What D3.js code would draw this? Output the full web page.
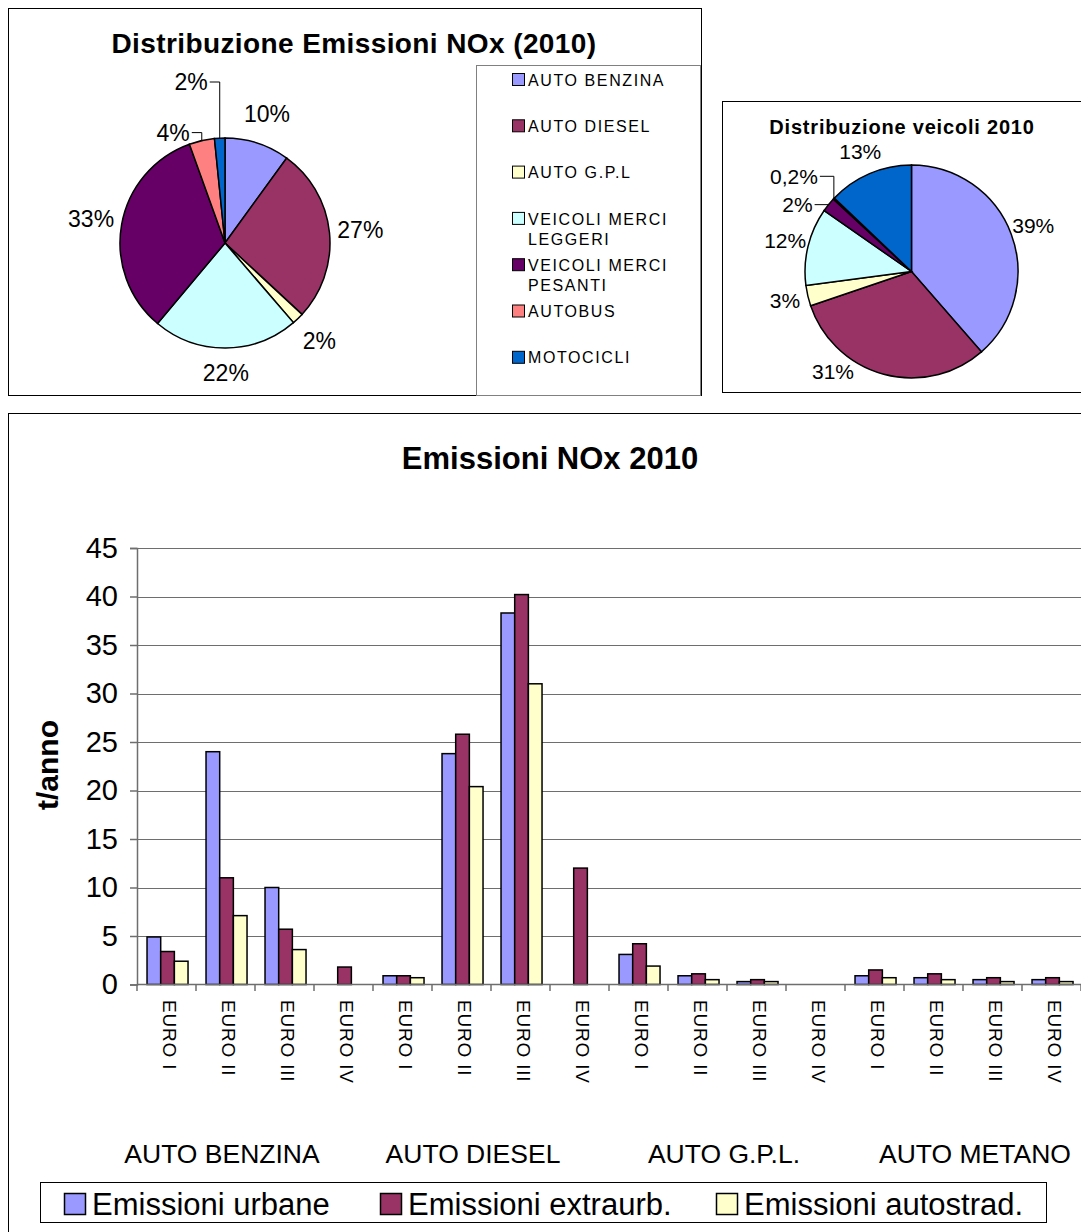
<!DOCTYPE html>
<html>
<head>
<meta charset="utf-8">
<script src="https://cdn.jsdelivr.net/npm/d3@7"></script>
<style>
  body { margin: 0; background: #fff; }
  svg { display: block; font-family: "Liberation Sans", Arial, sans-serif; }
</style>
</head>
<body>
<svg id="chart" width="1081" height="1232"></svg>
<script>
// --- dati torte ---
var categorie = ["AUTO BENZINA", "AUTO DIESEL", "AUTO G.P.L", "VEICOLI MERCI LEGGERI",
                 "VEICOLI MERCI PESANTI", "AUTOBUS", "MOTOCICLI"];
var emissioniNOx = [10.0, 26.9, 1.8, 22.4, 33.4, 3.9, 1.6];
var veicoli = [38.6, 31.2, 3.1, 11.8, 2.2, 0.2, 12.9];
var colori = ["#9999FF", "#993366", "#FFFFCC", "#CCFFFF", "#660066", "#FF8080", "#0066CC"];

// --- dati istogramma ---
var gruppi = ["AUTO BENZINA", "AUTO DIESEL", "AUTO G.P.L.", "AUTO METANO"];
var euro = ["EURO I", "EURO II", "EURO III", "EURO IV"];
var serie = ["Emissioni urbane", "Emissioni extraurb.", "Emissioni autostrad."];
var urbane    = [4.9, 24, 10, 0,   0.9, 23.8, 38.3, 0,  3.1, 0.9, 0.3, 0,  0.9, 0.7, 0.5, 0.5];
var extraurb  = [3.4, 11, 5.7, 1.8, 0.9, 25.8, 40.2, 12, 4.2, 1.1, 0.5, 0,  1.5, 1.1, 0.7, 0.7];
var autostrad = [2.4, 7.1, 3.6, 0, 0.7, 20.4, 31,   0,  1.9, 0.5, 0.3, 0,  0.7, 0.5, 0.3, 0.3];
var yTicks = [0, 5, 10, 15, 20, 25, 30, 35, 40, 45];
var coloriSerie = ["#9999FF", "#993366", "#FFFFCC"];

var svg = d3.select("#chart");
var it = d3.formatLocale({decimal: ",", thousands: ".", grouping: [3], currency: ["", "€"]});
function fmtPerc(p) { return p < 0.01 ? it.format(".1%")(p) : it.format(".0%")(p); }

// cornici
svg.append("rect").attr("x", 8.5).attr("y", 8.5).attr("width", 693).attr("height", 387)
  .attr("fill", "none").attr("stroke", "#000");
svg.append("rect").attr("x", 722.5).attr("y", 101.5).attr("width", 400).attr("height", 291)
  .attr("fill", "none").attr("stroke", "#000");
svg.append("rect").attr("x", 8.5).attr("y", 413.5).attr("width", 1100).attr("height", 900)
  .attr("fill", "none").attr("stroke", "#000");

// opt: fs = font, labelR = raggio etichette, fondo = limite basso,
// rise0 / passo = posizione delle etichette con linea guida
function disegnaTorta(valori, cx, cy, r, opt) {
  var fs = opt.fs;
  var g = svg.append("g");
  var archi = d3.pie().sort(null).value(function(d) { return d; })(valori);
  var arc = d3.arc().innerRadius(0).outerRadius(r);
  var tot = d3.sum(valori);

  g.selectAll("path").data(archi).enter().append("path")
    .attr("transform", "translate(" + cx + "," + cy + ")")
    .attr("d", arc)
    .attr("fill", function(d, i) { return colori[i]; })
    .attr("stroke", "#000").attr("stroke-width", 1.5);

  var prevY = null;
  archi.forEach(function(d, i) {
    var p = d.value / tot;
    var a = (d.startAngle + d.endAngle) / 2;
    var prev = valori[(i - 1 + valori.length) % valori.length] / tot;
    var next = valori[(i + 1) % valori.length] / tot;
    var piccola = p < 0.05 && (prev < 0.05 || next < 0.05);
    var testo = fmtPerc(p);
    if (!piccola) {
      var lx = cx + opt.labelR * Math.sin(a);
      var ly = cy - opt.labelR * Math.cos(a);
      var t = g.append("text").attr("dy", "0.35em")
        .attr("text-anchor", "middle").attr("font-size", fs).text(testo);
      if (ly > opt.fondo - fs) {
        // spostata dentro la cornice: se tocca la torta la allontano di lato
        ly = opt.fondo - fs;
        var w = t.node().getComputedTextLength();
        var dyTop = ly - cy - fs * 0.4;
        if (dyTop < r) {
          var half = Math.sqrt(r * r - dyTop * dyTop);
          if (Math.sin(a) < 0) lx = Math.min(lx, cx - half - w / 2 - 4);
          else lx = Math.max(lx, cx + half + w / 2 + 4);
        }
      }
      t.attr("x", lx).attr("y", ly);
    } else {
      var ex = cx + r * Math.sin(a), ey = cy - r * Math.cos(a);
      var ny = prevY === null ? ey - opt.rise0 : prevY - opt.passo * fs;
      var hx = ex - opt.coda;
      g.append("polyline")
        .attr("points", [[ex, ey], [ex, ny], [hx, ny]].map(function(q) { return q.join(","); }).join(" "))
        .attr("fill", "none").attr("stroke", "#000").attr("stroke-width", 1);
      g.append("text").attr("x", hx - 2).attr("y", ny).attr("dy", "0.35em")
        .attr("text-anchor", "end").attr("font-size", fs).text(testo);
      prevY = ny;
    }
  });
}

// --- torta emissioni ---
svg.append("text").attr("x", 354).attr("y", 53).attr("text-anchor", "middle")
  .attr("font-size", 28).attr("letter-spacing", 0.4).attr("font-weight", "bold")
  .text("Distribuzione Emissioni NOx (2010)");
disegnaTorta(emissioniNOx, 225, 243, 105, {fs: 23, labelR: 136, fondo: 396, rise0: 8, passo: 2.2, coda: 10});

// legenda torta
svg.append("rect").attr("x", 476.5).attr("y", 65.5).attr("width", 224).attr("height", 330)
  .attr("fill", "#fff").attr("stroke", "#808080");
var leg = svg.append("g");
categorie.forEach(function(c, i) {
  var y = 80 + i * 46.3;
  leg.append("rect").attr("x", 512.5).attr("y", y - 6.5).attr("width", 12).attr("height", 12)
    .attr("fill", colori[i]).attr("stroke", "#000");
  var parole = c.split(" ");
  var righe = parole.length > 2 ? [parole.slice(0, 2).join(" "), parole.slice(2).join(" ")] : [c];
  righe.forEach(function(t, j) {
    leg.append("text").attr("x", 528).attr("y", y + j * 20).attr("dy", "0.35em")
      .attr("font-size", 16).attr("letter-spacing", 1.6).text(t);
  });
});

// --- torta veicoli ---
svg.append("text").attr("x", 902).attr("y", 134).attr("text-anchor", "middle")
  .attr("font-size", 20).attr("letter-spacing", 0.8).attr("font-weight", "bold")
  .text("Distribuzione veicoli 2010");
disegnaTorta(veicoli, 911.5, 271.5, 106.5, {fs: 21, labelR: 130, fondo: 393, rise0: 0, passo: 1.35, coda: 14});

// --- istogramma ---
var dati = d3.range(urbane.length).map(function(i) {
  return [urbane[i], extraurb[i], autostrad[i]];
});
var etichetteX = d3.range(urbane.length).map(function(i) { return euro[i % euro.length]; });

var x0 = d3.scaleBand().domain(d3.range(dati.length)).range([137, 1081]);
var x1 = d3.scaleBand().domain(serie)
  .range([x0.bandwidth() * 0.17, x0.bandwidth() * 0.865]);
var y = d3.scaleLinear().domain([0, 45]).range([984.5, 548]);

svg.append("text").attr("x", 550).attr("y", 469).attr("text-anchor", "middle")
  .attr("font-size", 31).attr("font-weight", "bold").text("Emissioni NOx 2010");

// griglia
svg.append("g").selectAll("line").data(yTicks.slice(1)).enter().append("line")
  .attr("x1", 137).attr("x2", 1081)
  .attr("y1", function(d) { return Math.round(y(d)) + 0.5; })
  .attr("y2", function(d) { return Math.round(y(d)) + 0.5; })
  .attr("stroke", "#6e6e6e").attr("stroke-width", 1.2);

// asse y
var ay = svg.append("g").attr("transform", "translate(137,0)")
  .call(d3.axisLeft(y).tickValues(yTicks).tickSize(7).tickPadding(12));
ay.select(".domain").attr("stroke", "#6e6e6e").attr("stroke-width", 1.5);
ay.selectAll(".tick line").attr("stroke", "#6e6e6e").attr("stroke-width", 1.5);
ay.selectAll("text").attr("font-size", 29).attr("font-family", "Liberation Sans, Arial, sans-serif")
  .attr("fill", "#000");

svg.append("text").attr("transform", "translate(58,765) rotate(-90)")
  .attr("text-anchor", "middle").attr("font-size", 30).attr("font-weight", "bold").text("t/anno");

// barre
var gb = svg.append("g").selectAll("g").data(dati).enter().append("g")
  .attr("transform", function(d, i) { return "translate(" + x0(i) + ",0)"; });
gb.selectAll("rect")
  .data(function(d) {
    return d.map(function(v, j) { return {s: serie[j], v: v, c: coloriSerie[j]}; })
      .filter(function(o) { return o.v > 0; });
  })
  .enter().append("rect")
  .attr("x", function(o) { return x1(o.s); })
  .attr("y", function(o) { return y(o.v); })
  .attr("width", x1.bandwidth())
  .attr("height", function(o) { return y(0) - y(o.v); })
  .attr("fill", function(o) { return o.c; })
  .attr("stroke", "#000").attr("stroke-width", 1.5);

// asse x
svg.append("line").attr("x1", 137).attr("x2", 1081).attr("y1", 984.5).attr("y2", 984.5)
  .attr("stroke", "#6e6e6e").attr("stroke-width", 1.5);
svg.append("g").selectAll("line").data(d3.range(dati.length + 1)).enter().append("line")
  .attr("x1", function(i) { return 137 + i * x0.step(); })
  .attr("x2", function(i) { return 137 + i * x0.step(); })
  .attr("y1", 984.5).attr("y2", 991)
  .attr("stroke", "#6e6e6e").attr("stroke-width", 1.5);
svg.append("g").selectAll("text").data(etichetteX).enter().append("text")
  .attr("transform", function(d, i) {
    return "translate(" + (x0(i) + x0.bandwidth() / 2 + 3) + ",1000) rotate(90)";
  })
  .attr("dy", "0.35em").attr("font-size", 19).attr("letter-spacing", 0.8).text(function(d) { return d; });

// etichette gruppi
var xg = d3.scalePoint().domain(gruppi).range([222, 975]);
svg.append("g").selectAll("text").data(gruppi).enter().append("text")
  .attr("x", function(d) { return xg(d); })
  .attr("y", 1163).attr("text-anchor", "middle").attr("font-size", 26.5)
  .text(function(d) { return d; });

// legenda istogramma
svg.append("rect").attr("x", 40.5).attr("y", 1182.5).attr("width", 1006).attr("height", 40)
  .attr("fill", "#fff").attr("stroke", "#000");
var legX = [64, 380, 716];
serie.forEach(function(s, j) {
  svg.append("rect").attr("x", legX[j] + 0.5).attr("y", 1193.5).attr("width", 21).attr("height", 21)
    .attr("fill", coloriSerie[j]).attr("stroke", "#000").attr("stroke-width", 1.5);
  svg.append("text").attr("x", legX[j] + 28).attr("y", 1215).attr("font-size", 31).text(s);
});
</script>
</body>
</html>
